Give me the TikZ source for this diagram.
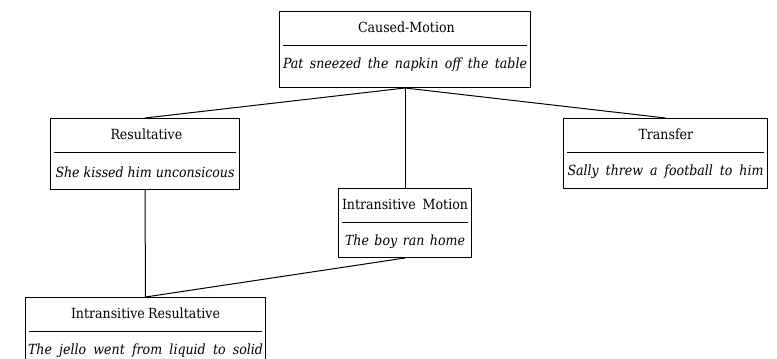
\documentclass[tikz,border=0pt]{standalone}
\usepackage{fontspec}
\setmainfont{DejaVu Serif Condensed}
\usetikzlibrary{calc}
\newcommand{\mkcbox}[9]{%
  \node[cbox, minimum width={#3-#2}, minimum height={#4-#5}, anchor=north west] (#1) at (#2,#4) {};
  \node[ttl] (#1-t) at ($(#1.north)+(0,-16.5)$) {\makebox[#7pt][s]{#6}};
  \draw[conn] ($(#1.north west)+(4,-34.5)$) -- ($(#1.north east)+(-4,-34.5)$);
  \node[ex] (#1-e) at ($(#1.north)+(0,-54)$) {\makebox[#9pt][s]{#8}};
}
\begin{document}
\begin{tikzpicture}[x=1pt,y=1pt,
  cbox/.style={draw,line width=1pt,rectangle,inner sep=0pt},
  ttl/.style={inner sep=0pt,font=\fontsize{14}{15}\selectfont},
  ex/.style={inner sep=0pt,font=\fontsize{14}{15}\selectfont\itshape},
  conn/.style={line width=1pt}]
\useasboundingbox (0,0) rectangle (777,359);
\mkcbox{cm}{279}{530}{348}{272}{Caused-Motion}{94}{Pat sneezed the napkin off the table}{244}
\mkcbox{res}{50}{239}{241}{170}{Resultative}{69}{She kissed him unconsicous}{179}
\mkcbox{im}{338}{471}{171}{102}{Intransitive Motion}{126}{The boy ran home}{120}
\mkcbox{tr}{563}{767}{241}{171}{Transfer}{54}{Sally threw a football to him}{196}
\mkcbox{ir}{25}{265}{62}{-12}{Intransitive Resultative}{149}{The jello went from liquid to solid}{235}
\draw[conn] (cm.south) -- (res.north);
\draw[conn] (cm.south) -- (tr.north);
\draw[conn] (cm.south) -- (im.north);
\draw[conn] (res.south) -- (ir.north);
\draw[conn] (im.south) -- (ir.north);
\end{tikzpicture}
\end{document}
